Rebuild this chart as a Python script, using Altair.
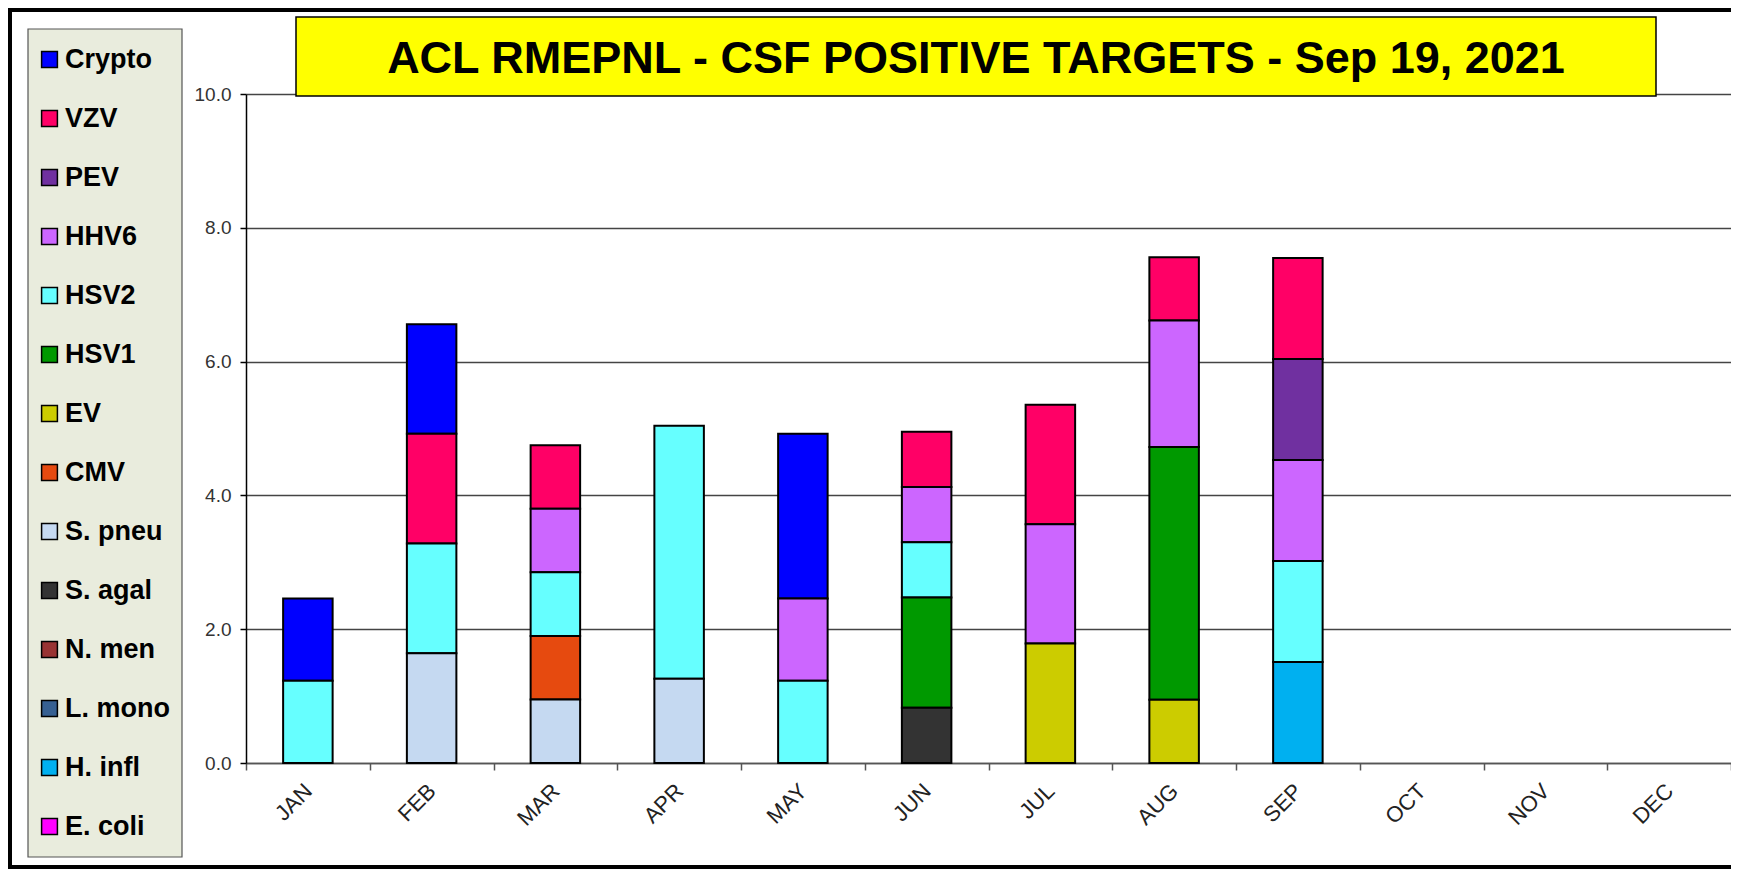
import altair as alt
import pandas as pd

TITLE = "ACL RMEPNL - CSF POSITIVE TARGETS - Sep 19, 2021"

months = ["JAN", "FEB", "MAR", "APR", "MAY", "JUN", "JUL", "AUG", "SEP", "OCT", "NOV", "DEC"]

# legend order (top to bottom); stacking is the reverse (E. coli at the bottom)
targets = ["Crypto", "VZV", "PEV", "HHV6", "HSV2", "HSV1", "EV", "CMV",
           "S. pneu", "S. agal", "N. men", "L. mono", "H. infl", "E. coli"]
colors = ["#0000FF", "#FF0066", "#7030A0", "#CC66FF", "#66FFFF", "#009900", "#CCCC00",
          "#E64A0F", "#C5D9F1", "#333333", "#993333", "#366092", "#00B0F0", "#FF00FF"]

crypto = [1.23, 1.64, 0, 0, 2.46, 0, 0, 0, 0, 0, 0, 0]
vzv = [0, 1.64, 0.95, 0, 0, 0.825, 1.785, 0.945, 1.51, 0, 0, 0]
pev = [0, 0, 0, 0, 0, 0, 0, 0, 1.51, 0, 0, 0]
hhv6 = [0, 0, 0.95, 0, 1.23, 0.825, 1.785, 1.89, 1.51, 0, 0, 0]
hsv2 = [1.23, 1.64, 0.95, 3.78, 1.23, 0.825, 0, 0, 1.51, 0, 0, 0]
hsv1 = [0, 0, 0, 0, 0, 1.65, 0, 3.78, 0, 0, 0, 0]
ev = [0, 0, 0, 0, 0, 0, 1.785, 0.945, 0, 0, 0, 0]
cmv = [0, 0, 0.95, 0, 0, 0, 0, 0, 0, 0, 0, 0]
s_pneu = [0, 1.64, 0.95, 1.26, 0, 0, 0, 0, 0, 0, 0, 0]
s_agal = [0, 0, 0, 0, 0, 0.825, 0, 0, 0, 0, 0, 0]
n_men = [0, 0, 0, 0, 0, 0, 0, 0, 0, 0, 0, 0]
l_mono = [0, 0, 0, 0, 0, 0, 0, 0, 0, 0, 0, 0]
h_infl = [0, 0, 0, 0, 0, 0, 0, 0, 1.51, 0, 0, 0]
e_coli = [0, 0, 0, 0, 0, 0, 0, 0, 0, 0, 0, 0]

series = [crypto, vzv, pev, hhv6, hsv2, hsv1, ev, cmv, s_pneu, s_agal, n_men, l_mono, h_infl, e_coli]

rows = []
for i, (name, vals) in enumerate(zip(targets, series)):
    for m, v in zip(months, vals):
        if v > 0:
            rows.append({"month": m, "target": name, "value": v, "rank": len(targets) - 1 - i})
df = pd.DataFrame(rows)

W, H = 1485, 669
FONT = "Liberation Sans"

bars = alt.Chart(df).mark_bar(size=49.5, stroke="black", strokeWidth=2).encode(
    x=alt.X("month:N",
            scale=alt.Scale(domain=months, paddingInner=0, paddingOuter=0),
            axis=alt.Axis(title=None, labelAngle=-45, tickBand="extent", grid=False,
                          domainColor="#555555", domainWidth=1.5, tickColor="#555555",
                          tickWidth=1.5, tickSize=7, labelPadding=10, labelOffset=-7,
                          labelFont=FONT, labelFontSize=22, labelColor="#222222")),
    y=alt.Y("value:Q", stack="zero",
            scale=alt.Scale(domain=[0, 10], nice=False),
            axis=alt.Axis(title=None, values=[0, 2, 4, 6, 8, 10], format=".1f",
                          grid=True, gridColor="#444444", gridWidth=1.5,
                          domainColor="black", domainWidth=1.5, tickColor="black",
                          tickWidth=1.5, tickSize=6, labelPadding=9, labelFont=FONT,
                          labelFontSize=19, labelColor="#333333")),
    color=alt.Color("target:N",
                    scale=alt.Scale(domain=targets, range=colors),
                    legend=alt.Legend(title=None, orient="none", legendX=-210, legendY=-48,
                                      direction="vertical", padding=0,
                                      symbolType="square", symbolSize=250,
                                      symbolStrokeColor="black", symbolStrokeWidth=1.5,
                                      labelFont=FONT, labelFontSize=27, labelFontWeight="bold",
                                      labelColor="black", rowPadding=31, labelOffset=2,
                                      labelLimit=300)),
    order=alt.Order("rank:Q", sort="ascending"),
)

one = pd.DataFrame({"k": [0]})

legend_box = alt.Chart(one).mark_rect(fill="#E9ECDD", stroke="#555555", strokeWidth=1.2).encode(
    x=alt.value(-218), x2=alt.value(-64), y=alt.value(-65), y2=alt.value(H + 94))

title_box = alt.Chart(one).mark_rect(fill="#FFFF00", stroke="black", strokeWidth=1.5).encode(
    x=alt.value(50), x2=alt.value(1410), y=alt.value(-77), y2=alt.value(2))

title_text = alt.Chart(one).mark_text(font=FONT, fontSize=45, fontWeight="bold",
                                      align="center", baseline="alphabetic", color="black").encode(
    x=alt.value(730), y=alt.value(-21), text=alt.value(TITLE))

frame_left = alt.Chart(one).mark_rule(color="black", strokeWidth=4).encode(
    x=alt.value(-236), y=alt.value(-86), y2=alt.value(H + 106))
frame_top = alt.Chart(one).mark_rule(color="black", strokeWidth=4).encode(
    x=alt.value(-238), x2=alt.value(W), y=alt.value(-84))
frame_bottom = alt.Chart(one).mark_rule(color="black", strokeWidth=4).encode(
    x=alt.value(-238), x2=alt.value(W), y=alt.value(H + 104))

chart = alt.layer(legend_box, bars, title_box, title_text, frame_left, frame_top, frame_bottom).properties(
    width=W, height=H,
    padding={"left": 238, "top": 86, "right": 0, "bottom": 106},
    autosize=alt.AutoSizeParams(type="none"),
    background="white",
).configure_view(stroke=None)

chart.save("out.html", embed_options={"renderer": "svg", "actions": False})
